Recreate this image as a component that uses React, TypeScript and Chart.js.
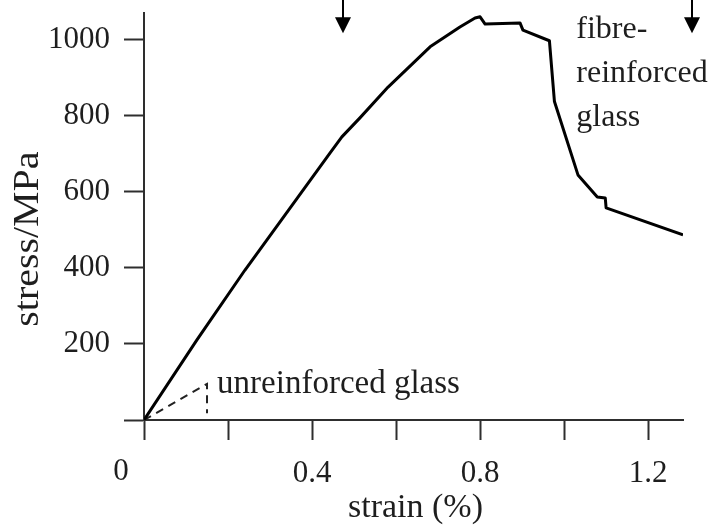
import React, { useEffect, useRef } from 'react';
import { Chart, registerables } from 'chart.js';

Chart.register(...registerables);

// ---- data ----
const FIBRE_STRAIN = [0, 0.126, 0.24, 0.443, 0.471, 0.514, 0.581, 0.681, 0.752, 0.788, 0.8, 0.812, 0.895, 0.902, 0.965, 0.977, 1.033, 1.079, 1.098, 1.1, 1.283];
const FIBRE_STRESS = [0, 211, 394, 703, 745, 795, 876, 982, 1034, 1058, 1061, 1042, 1045, 1026, 998, 838, 645, 587, 584, 558, 487];

const PLAIN_STRAIN = [0, 0.15, 0.15];
const PLAIN_STRESS = [0, 95, 18];

const X_TICK_LABELS = ['0.4', '0.8', '1.2'];
const Y_TICK_LABELS = ['200', '400', '600', '800', '1000'];

const ARROW_STRAINS = [0.474, 1.305];
const ARROW_TIP_STRESS = 1018;

const FIBRE_LABEL = ['fibre-', 'reinforced', 'glass'];
const FIBRE_LABEL_AT = [1.029, 1005];
const PLAIN_LABEL = 'unreinforced glass';
const PLAIN_LABEL_AT = [0.174, 71];

const X_TITLE = 'strain (%)';
const Y_TITLE = 'stress/MPa';

const FONT = '"Liberation Serif", "Times New Roman", serif';
const TEXT = '#1e1e1e';
const AXIS = '#2e2e2e';

const annotations = {
  id: 'annotations',
  afterDraw(chart: any) {
    const ctx = chart.ctx as CanvasRenderingContext2D;
    const xs = chart.scales.x;
    const ys = chart.scales.y;
    ctx.save();
    ctx.fillStyle = TEXT;

    // curve labels
    ctx.textAlign = 'left';
    ctx.textBaseline = 'alphabetic';
    ctx.font = `33px ${FONT}`;
    ctx.fillText(PLAIN_LABEL, xs.getPixelForValue(PLAIN_LABEL_AT[0]), ys.getPixelForValue(PLAIN_LABEL_AT[1]));
    ctx.font = `32px ${FONT}`;
    const fx = xs.getPixelForValue(FIBRE_LABEL_AT[0]);
    const fy = ys.getPixelForValue(FIBRE_LABEL_AT[1]);
    FIBRE_LABEL.forEach((t, i) => ctx.fillText(t, fx, fy + i * 44));

    // origin label
    ctx.font = `31px ${FONT}`;
    ctx.textAlign = 'center';
    ctx.textBaseline = 'middle';
    ctx.fillText('0', xs.getPixelForValue(0) - 23, ys.bottom + 52);

    // axis titles
    ctx.font = `34px ${FONT}`;
    ctx.textAlign = 'center';
    ctx.textBaseline = 'alphabetic';
    ctx.fillText(X_TITLE, (xs.left + xs.right) / 2 + 2, chart.height - 15);
    ctx.save();
    ctx.font = `35px ${FONT}`;
    ctx.translate(38, ys.getPixelForValue(476));
    ctx.rotate(-Math.PI / 2);
    ctx.scale(1.14, 1);
    ctx.fillText(Y_TITLE, 0, 0);
    ctx.restore();

    // arrows
    ctx.fillStyle = '#000';
    ctx.strokeStyle = '#000';
    ctx.lineWidth = 2;
    ARROW_STRAINS.forEach((s) => {
      const x = Math.round(xs.getPixelForValue(s));
      const tip = ys.getPixelForValue(ARROW_TIP_STRESS);
      ctx.beginPath();
      ctx.moveTo(x, 0);
      ctx.lineTo(x, tip - 14);
      ctx.stroke();
      ctx.beginPath();
      ctx.moveTo(x - 8, tip - 16);
      ctx.lineTo(x + 8, tip - 16);
      ctx.lineTo(x, tip);
      ctx.closePath();
      ctx.fill();
    });
    ctx.restore();
  },
};

export default function App() {
  const ref = useRef<HTMLCanvasElement>(null);

  useEffect(() => {
    document.body.style.margin = '0';
    const fibre = FIBRE_STRAIN.map((x, i) => ({ x, y: FIBRE_STRESS[i] }));
    const plain = PLAIN_STRAIN.map((x, i) => ({ x, y: PLAIN_STRESS[i] }));
    const chart = new Chart(ref.current as HTMLCanvasElement, {
      type: 'line',
      data: {
        datasets: [
          {
            label: 'fibre-reinforced glass',
            data: fibre,
            borderColor: '#000',
            borderWidth: 3,
            pointRadius: 0,
            tension: 0,
            fill: false,
            borderJoinStyle: 'round',
          },
          {
            label: 'unreinforced glass',
            data: plain,
            borderColor: '#222',
            borderWidth: 2,
            borderDash: [8, 6],
            pointRadius: 0,
            tension: 0,
            fill: false,
          },
        ],
      },
      options: {
        animation: false,
        responsive: false,
        devicePixelRatio: 1,
        layout: { padding: { top: 13, right: 31, left: 0, bottom: 0 } },
        plugins: { legend: { display: false }, tooltip: { enabled: false } },
        scales: {
          x: {
            type: 'linear',
            position: 'bottom',
            min: 0,
            max: 1.283,
            afterFit: (s: any) => {
              s.height = 112;
              s.paddingLeft = 0;
              s.paddingRight = 0;
            },
            ticks: {
              stepSize: 0.2,
              includeBounds: false,
              autoSkip: false,
              maxRotation: 0,
              padding: 15,
              color: TEXT,
              font: { family: FONT, size: 31 },
              callback: (v: any) => {
                const t = Number(v).toFixed(1);
                return X_TICK_LABELS.includes(t) ? t : '';
              },
            },
            grid: { drawOnChartArea: false, drawTicks: true, tickLength: 20, tickColor: AXIS, tickWidth: 2 },
            border: { display: true, color: AXIS, width: 2 },
          },
          y: {
            type: 'linear',
            min: 0,
            max: 1071,
            afterFit: (s: any) => {
              s.width = 144;
              s.paddingTop = 0;
              s.paddingBottom = 0;
            },
            ticks: {
              stepSize: 200,
              includeBounds: false,
              padding: 14,
              color: TEXT,
              font: { family: FONT, size: 31 },
              callback: (v: any) => {
                const t = String(Math.round(Number(v)));
                return Y_TICK_LABELS.includes(t) ? t : '';
              },
            },
            grid: { drawOnChartArea: false, drawTicks: true, tickLength: 20, tickColor: AXIS, tickWidth: 2 },
            border: { display: true, color: AXIS, width: 2 },
          },
        },
      },
      plugins: [annotations],
    });
    return () => chart.destroy();
  }, []);

  return <canvas ref={ref} width={714} height={532} style={{ display: 'block', width: 714, height: 532 }} />;
}
